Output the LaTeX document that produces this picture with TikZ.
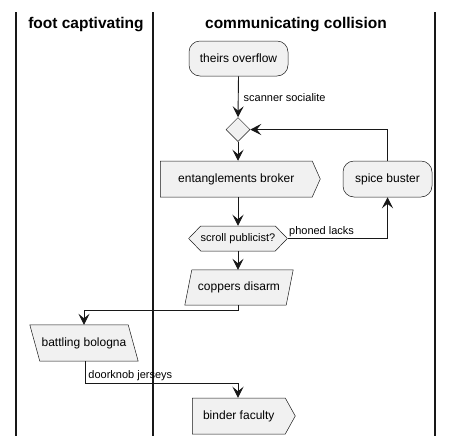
\documentclass[tikz,border=0pt]{standalone}
\usepackage{fontspec}
\setmainfont{Liberation Sans}
\usetikzlibrary{arrows.meta,shapes.geometric,shapes.symbols,calc,backgrounds}
\definecolor{boxfill}{HTML}{F1F1F1}
\definecolor{linecol}{HTML}{181818}
\begin{document}
\begin{tikzpicture}[x=1pt,y=-1pt,
  box/.style={draw=linecol, fill=boxfill, line width=0.5pt, inner sep=0pt, font=\fontsize{12}{14}\selectfont},
  paratext/.style={inner sep=0pt, font=\fontsize{12}{14}\selectfont},
  outline/.style={draw=linecol, fill=boxfill, line width=0.5pt},
  lbl/.style={font=\fontsize{11}{13}\selectfont, inner sep=0pt},
  conn/.style={line width=0.9pt, draw=linecol, -{Stealth[length=11pt,width=11pt,inset=4.5pt]}},
  lane/.style={line width=1.5pt, draw=linecol},
  hdr/.style={font=\fontsize{15.5}{18}\selectfont\bfseries}]
\useasboundingbox (0,0) rectangle (453,445);
% lanes
\draw[lane] (16,12) -- (16,436);
\draw[lane] (153,12) -- (153,436);
\draw[lane] (435,12) -- (435,436);
\node[hdr] (h1) at (86,25) {foot captivating};
\node[hdr] (h2) at (296,25) {communicating collision};
% nodes
\node[box, rounded corners=11pt, minimum width=99pt, minimum height=35pt] (theirs) at (238.5,58.5) {theirs overflow};
\node[box, diamond, minimum width=24pt, minimum height=24pt] (dia) at (238,129.5) {};
\node[box, signal, signal to=east, signal pointer angle=132, minimum width=160pt, minimum height=36pt, anchor=west] (eb) at (160,179) {entanglements broker};
\node[box, rounded corners=11pt, minimum width=89pt, minimum height=36pt] (sb) at (387.5,179) {spice buster};
\node[box, signal, signal to=west and east, signal pointer angle=92, minimum width=98pt, minimum height=25pt, font=\fontsize{11}{13}\selectfont] (hex) at (238,238.5) {scroll publicist?};
\node[paratext, minimum width=101pt, minimum height=35pt] (cd) at (239,287.5) {coppers disarm};
\node[paratext, minimum width=98pt, minimum height=36pt] (bb) at (84,343) {battling bologna};
\node[box, signal, signal to=east, signal pointer angle=122, minimum width=103pt, minimum height=36pt, anchor=west] (bf) at (192,416) {binder faculty};
\begin{pgfonlayer}{background}
\draw[outline] ([xshift=-3.5pt]cd.south west) -- ([xshift=3.5pt]cd.north west) -- ([xshift=3.5pt]cd.north east) -- ([xshift=-3.5pt]cd.south east) -- cycle;
\draw[outline] ([xshift=-5pt]bb.north west) -- ([xshift=-5pt]bb.north east) -- ([xshift=5pt]bb.south east) -- ([xshift=5pt]bb.south west) -- cycle;
\end{pgfonlayer}
\coordinate (c1) at (238,310);
\coordinate (c2) at (85,383);
% connectors
\draw[conn] (theirs.south) -- node[lbl, anchor=west, xshift=5pt, yshift=-1pt]{scanner socialite} (dia.north);
\draw[conn] (dia.south) -- (dia.south |- eb.north);
\draw[conn] (dia.south |- eb.south) -- (hex.north);
\draw[conn] (hex.east) -- node[lbl, pos=0, anchor=south west, xshift=1pt, yshift=1pt]{phoned lacks} (hex.east -| sb.south) -- (sb.south);
\draw[conn] (sb.north) |- (dia.east);
\draw[conn] (hex.south) -- (hex.south |- cd.north);
\draw[conn] (hex.south |- cd.south) -- (c1) -| (bb.north);
\draw[conn] (bb.south -| c2) -- (c2) -- node[lbl, pos=0, anchor=south west, xshift=3pt, yshift=2pt]{doorknob jerseys} (c2 -| dia) -- (dia |- bf.north);
\end{tikzpicture}
\end{document}
